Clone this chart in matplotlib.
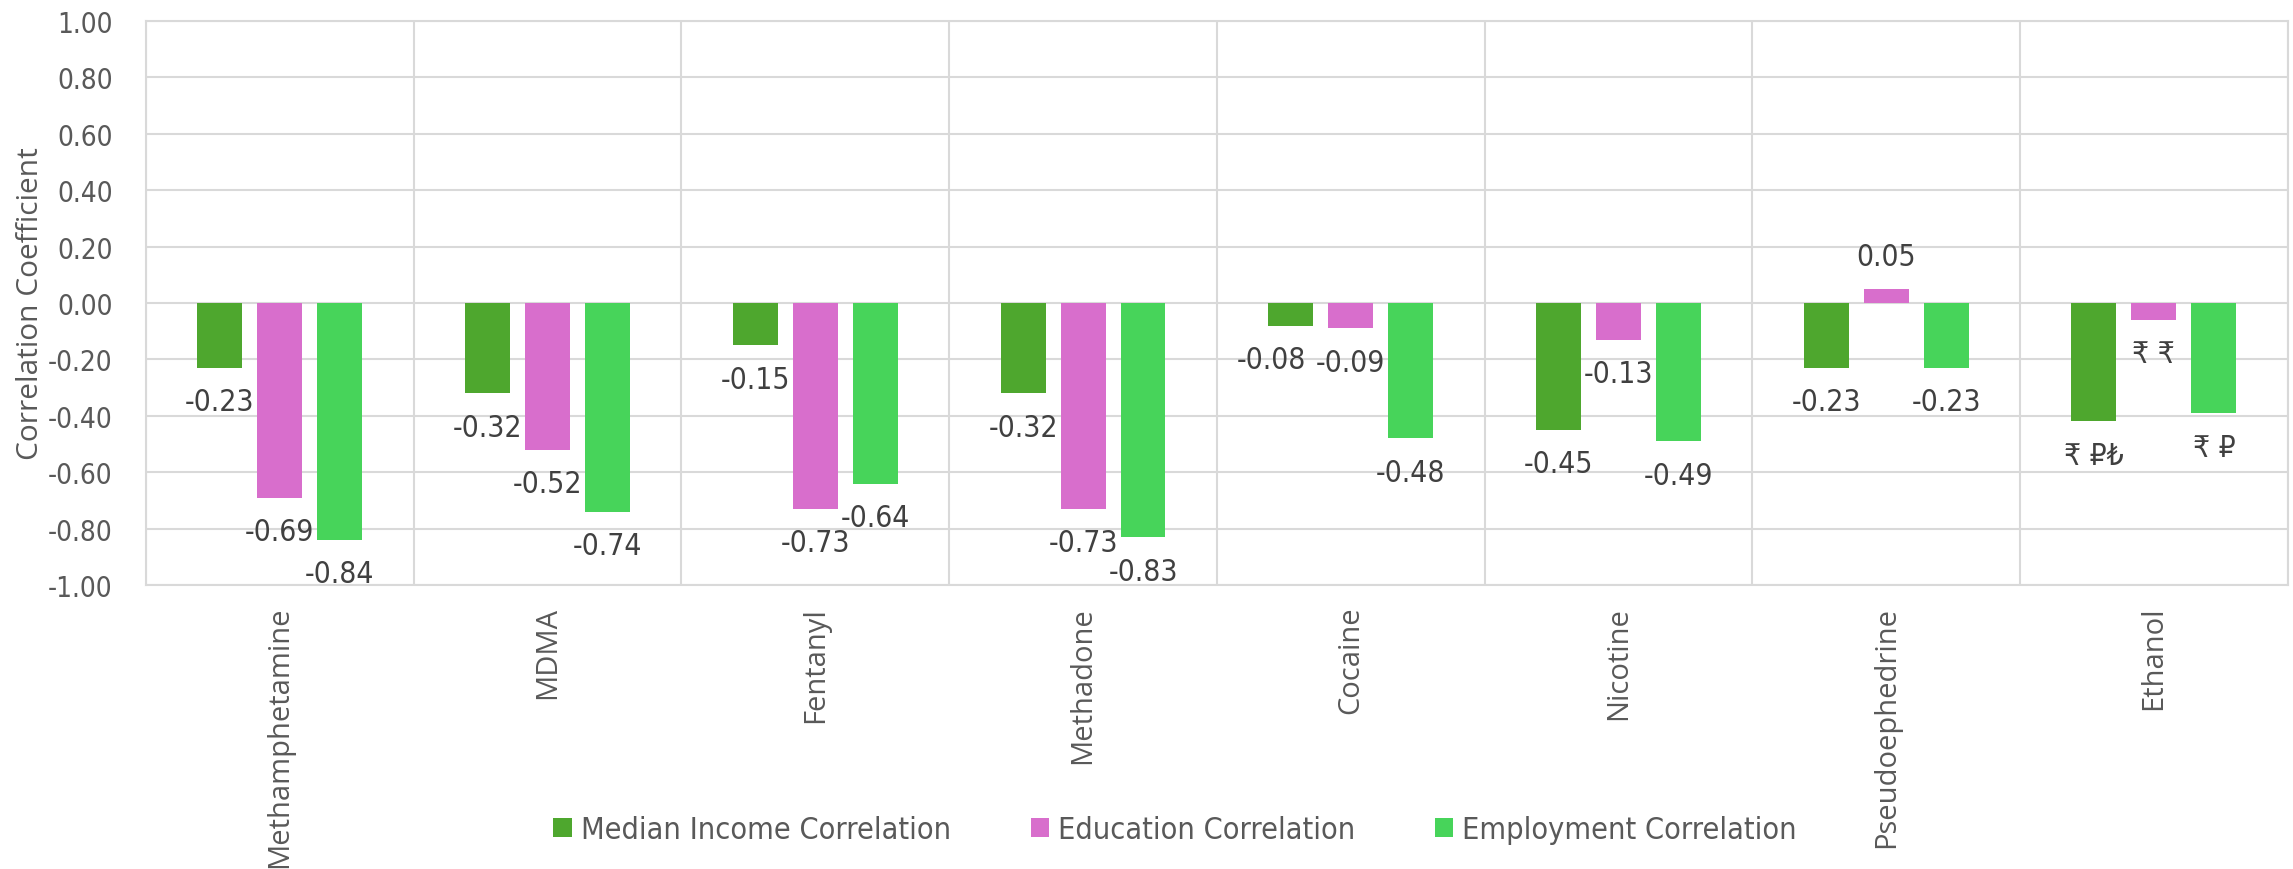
import matplotlib
matplotlib.use("Agg")
import matplotlib.pyplot as plt
import numpy as np

drogas = ['Methamphetamine', 'MDMA', 'Fentanyl', 'Methadone', 'Cocaine',
          'Nicotine', 'Pseudoephedrine', 'Ethanol']
income = [-0.23, -0.32, -0.15, -0.32, -0.08, -0.45, -0.23, -0.42]
education = [-0.69, -0.52, -0.73, -0.73, -0.09, -0.13, 0.05, -0.06]
employment = [-0.84, -0.74, -0.64, -0.83, -0.48, -0.49, -0.23, -0.39]
series_names = ['Median Income Correlation', 'Education Correlation', 'Employment Correlation']
# las etiquetas de Ethanol salen así en el original
ethanol_labels = ['₹ ₽₺', '₹ ₹', '₹ ₽']
yticks = [-1.0, -0.8, -0.6, -0.4, -0.2, 0.0, 0.2, 0.4, 0.6, 0.8, 1.0]

colores = ['#4EA72E', '#D86ECC', '#47D45A']
narrow = ['Liberation Sans Narrow', 'DejaVu Sans']
gris = '#595959'
grid_c = '#D9D9D9'
# Excel corre esta etiqueta a la izquierda para que no choque
empuje = {('Cocaine', 0): -14}

fig = plt.figure(figsize=(22.93, 8.7), dpi=100)
ax = fig.add_axes([0.0637, 0.3264, 0.934, 0.6483])

x = np.arange(len(drogas))
w = 0.168
step = 0.224
series = [income, education, employment]
for k, (vals, col, name) in enumerate(zip(series, colores, series_names)):
    bars = ax.bar(x + (k - 1) * step, vals, w, color=col, label=name, zorder=3)
    for i, (b, v) in enumerate(zip(bars, vals)):
        txt = f'{v:.2f}'
        if drogas[i] == 'Ethanol':
            txt = ethanol_labels[k]
        off = 23 if v >= 0 else -24.5
        dx = empuje.get((drogas[i], k), 0)
        ax.annotate(txt, (b.get_x() + b.get_width() / 2, v), xytext=(dx, off),
                    textcoords='offset points', ha='center', va='center',
                    fontsize=21.5, color='#404040', family=narrow, stretch='condensed')

ax.set_xlim(-0.5, len(drogas) - 0.5)
ax.set_ylim(-1.0, 1.0)
ax.set_yticks(yticks)
ax.set_yticklabels([f'{t:.2f}' for t in yticks], family=narrow, fontsize=20, color=gris,
                   stretch='condensed')
ax.set_xticks(x)
ax.set_xticklabels(drogas, rotation=90, fontsize=21, color=gris, family='Open Sans')
ax.set_xticks(np.arange(len(drogas) + 1) - 0.5, minor=True)
ax.tick_params(axis='both', which='both', length=0)
ax.tick_params(axis='y', pad=24)
ax.tick_params(axis='x', pad=15)
ax.grid(axis='y', color=grid_c, linewidth=1.5, zorder=0)
ax.grid(axis='x', which='minor', color=grid_c, linewidth=1.5, zorder=0)
ax.grid(axis='x', which='major', visible=False)
for s in ax.spines.values():
    s.set_color(grid_c)
    s.set_linewidth(1.5)

ax.set_ylabel('Correlation Coefficient', fontsize=21.5, color=gris, family='Open Sans')
ax.yaxis.set_label_coords(-0.047, 0.5)

leg = fig.legend(loc='center', bbox_to_anchor=(0.5125, 0.045), ncol=3, frameon=True,
                 prop={'family': narrow, 'size': 22, 'stretch': 'condensed'},
                 handlelength=0.6, handleheight=0.6,
                 handletextpad=0.3, columnspacing=2.6, borderpad=0.2)
leg.get_frame().set_facecolor('white')
leg.get_frame().set_edgecolor('white')
for t in leg.get_texts():
    t.set_color(gris)

fig.savefig('out.png', dpi=100)
